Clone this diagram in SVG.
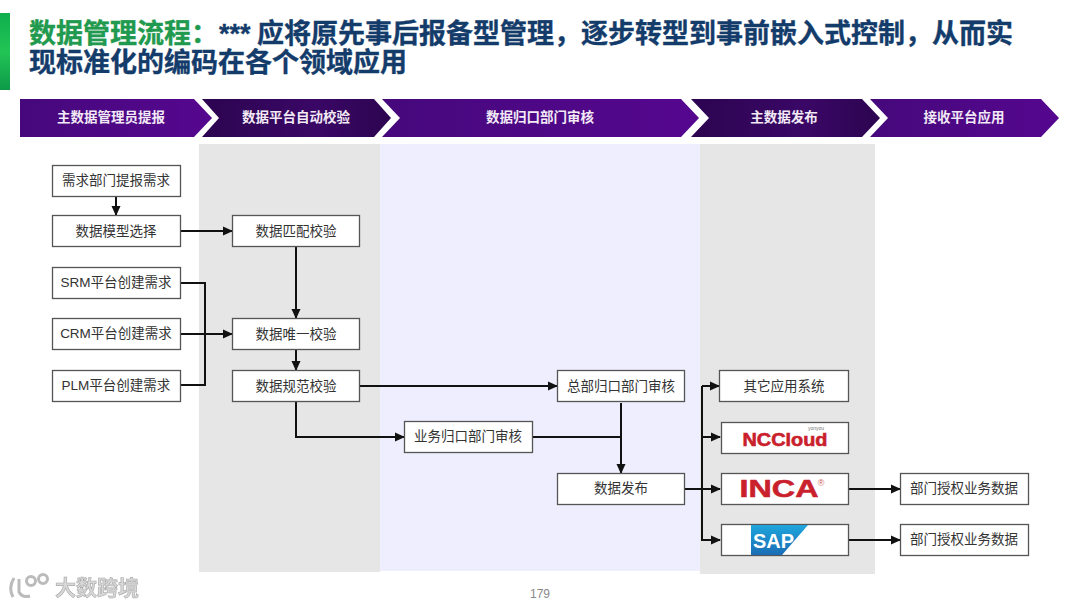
<svg xmlns="http://www.w3.org/2000/svg" width="1080" height="608" viewBox="0 0 1080 608">
<style>
text{font-family:"Liberation Sans","Noto Sans CJK SC",sans-serif}
.cjk{font-family:"Noto Sans CJK SC",sans-serif}
.box{fill:#fff;stroke:#555;stroke-width:1.3}
.lb{font-size:13.5px;fill:#333;text-anchor:middle;dominant-baseline:central}
.hd{font-size:13.5px;fill:#f2eaf6;text-anchor:middle;dominant-baseline:central;font-weight:700}
.t{font-size:27px;font-weight:700;fill:#143c6b;stroke:#143c6b;stroke-width:.35}
.g{fill:#1f9a4e;stroke:#1f9a4e}
.c{fill:none;stroke:#111;stroke-width:2}
.a{fill:none;stroke:#111;stroke-width:2;marker-end:url(#ah)}
</style>
<defs>
<marker id="ah" markerWidth="11" markerHeight="11" refX="9" refY="5" orient="auto" markerUnits="userSpaceOnUse"><path d="M0,0.5L10,5L0,9.5Z" fill="#111"/></marker>
<linearGradient id="bar" x1="0" y1="0" x2="0" y2="1"><stop offset="0" stop-color="#0fae4e"/><stop offset=".5" stop-color="#22c455"/><stop offset="1" stop-color="#0d9a48"/></linearGradient>
<linearGradient id="p1" x1="0" y1="0" x2="1" y2="0"><stop offset="0" stop-color="#46087c"/><stop offset="1" stop-color="#55078f"/></linearGradient>
<linearGradient id="p2" x1="0" y1="0" x2="1" y2="0"><stop offset="0" stop-color="#2c0450"/><stop offset=".6" stop-color="#3a0766"/><stop offset="1" stop-color="#2c0450"/></linearGradient>
<linearGradient id="sap" x1="0" y1="0" x2="0" y2="1"><stop offset="0" stop-color="#1fa6dc"/><stop offset="1" stop-color="#1a6cb4"/></linearGradient>
<filter id="soft"><feGaussianBlur stdDeviation="0.7"/></filter>
</defs>

<rect x="0" y="13" width="10" height="77" fill="url(#bar)"/>
<text class="t g cjk" x="29" y="43">数据管理流程：</text>
<text class="t" x="219" y="43">***</text>
<text class="t cjk" x="257" y="43">应将原先事后报备型管理，逐步转型到事前嵌入式控制，从而实</text>
<text class="t cjk" x="29" y="72">现标准化的编码在各个领域应用</text>

<g id="bands">
<rect x="199" y="144" width="181" height="428" fill="#e6e6e6"/>
<rect x="380" y="144" width="320" height="427" fill="#eeeefe"/>
<rect x="700" y="144" width="175" height="430" fill="#e6e6e6"/>
</g>

<g id="stage1"><path d="M20,99H194L212,118L194,137H20Z" fill="url(#p1)"/><text class="hd cjk" x="111" y="116">主数据管理员提报</text></g>
<g id="stage2"><path d="M202,99H374L391,118L374,137H202L219,118Z" fill="url(#p2)"/><text class="hd cjk" x="296" y="116">数据平台自动校验</text></g>
<g id="stage3"><path d="M382,99H681L699,118L681,137H382L400,118Z" fill="url(#p1)"/><text class="hd cjk" x="540" y="116">数据归口部门审核</text></g>
<g id="stage4"><path d="M691,99H862L880,118L862,137H691L709,118Z" fill="url(#p2)"/><text class="hd cjk" x="784" y="116">主数据发布</text></g>
<g id="stage5"><path d="M870,99H1041L1059,118L1041,137H870L888,118Z" fill="url(#p1)"/><text class="hd cjk" x="964" y="116">接收平台应用</text></g>

<g id="connectors">
<path class="a" d="M116,197V215"/>
<path class="a" d="M181,231H232"/>
<path class="a" d="M296,247V318"/>
<path class="c" d="M181,283H205V385H181"/>
<path class="a" d="M181,334H232"/>
<path class="a" d="M296,350V370"/>
<path class="a" d="M360,386H557"/>
<path class="a" d="M296,402V437H404"/>
<path class="c" d="M533,437H621"/>
<path class="a" d="M621,403V473"/>
<path class="c" d="M685,489H702"/>
<path class="a" d="M702,386H719"/>
<path class="a" d="M702,437H720"/>
<path class="a" d="M702,489H720"/>
<path class="a" d="M702,386V540H720"/>
<path class="a" d="M849,489H900"/>
<path class="a" d="M849,540H900"/>
</g>

<g id="n1"><rect class="box" x="52.5" y="165.5" width="128" height="31"/><text class="lb cjk" x="116" y="179">需求部门提报需求</text></g>
<g id="n2"><rect class="box" x="52.5" y="215.5" width="128" height="31"/><text class="lb cjk" x="116" y="230">数据模型选择</text></g>
<g id="n3"><rect class="box" x="52.5" y="267.5" width="128" height="31"/><text class="lb" x="116" y="282">SRM平台创建需求</text></g>
<g id="n4"><rect class="box" x="52.5" y="318.5" width="128" height="31"/><text class="lb" x="116" y="333">CRM平台创建需求</text></g>
<g id="n5"><rect class="box" x="52.5" y="370.5" width="128" height="31"/><text class="lb" x="116" y="385">PLM平台创建需求</text></g>
<g id="n6"><rect class="box" x="232.5" y="215.5" width="127" height="31"/><text class="lb cjk" x="296" y="230">数据匹配校验</text></g>
<g id="n7"><rect class="box" x="232.5" y="318.5" width="127" height="31"/><text class="lb cjk" x="296" y="333">数据唯一校验</text></g>
<g id="n8"><rect class="box" x="232.5" y="370.5" width="127" height="31"/><text class="lb cjk" x="296" y="385">数据规范校验</text></g>
<g id="n9"><rect class="box" x="404.5" y="421.5" width="128" height="31"/><text class="lb cjk" x="468" y="435">业务归口部门审核</text></g>
<g id="n10"><rect class="box" x="557.5" y="370.5" width="127" height="31"/><text class="lb cjk" x="621" y="385">总部归口部门审核</text></g>
<g id="n11"><rect class="box" x="557.5" y="473.5" width="127" height="31"/><text class="lb cjk" x="621" y="487">数据发布</text></g>
<g id="n12"><rect class="box" x="719.5" y="370.5" width="129" height="31"/><text class="lb cjk" x="784" y="385">其它应用系统</text></g>
<g id="n13"><rect class="box" x="721.5" y="422.5" width="127" height="31"/><text x="785" y="446" text-anchor="middle" font-size="19" font-weight="700" fill="#c9202c" stroke="#c9202c" stroke-width=".6" textLength="85" lengthAdjust="spacingAndGlyphs">NCCloud</text><text x="816" y="430" text-anchor="middle" font-size="5" fill="#777">yonyou</text></g>
<g id="n14"><rect class="box" x="721.5" y="473.5" width="127" height="31"/><text x="779" y="497" text-anchor="middle" font-size="23" font-weight="700" fill="#c9202c" stroke="#c9202c" stroke-width=".5" textLength="79" lengthAdjust="spacingAndGlyphs">INCA</text><text x="821" y="486" text-anchor="middle" font-size="9" fill="#d06060">®</text></g>
<g id="n15"><rect class="box" x="721.5" y="524.5" width="127" height="31"/><path d="M751,525H808L782,555H751Z" fill="url(#sap)"/><text x="753" y="548" font-size="20" font-weight="700" fill="#fff" textLength="41" lengthAdjust="spacingAndGlyphs">SAP</text></g>
<g id="n16"><rect class="box" x="900.5" y="473.5" width="128" height="31"/><text class="lb cjk" x="964" y="487">部门授权业务数据</text></g>
<g id="n17"><rect class="box" x="900.5" y="524.5" width="128" height="31"/><text class="lb cjk" x="964" y="538">部门授权业务数据</text></g>

<text x="540" y="598" text-anchor="middle" font-size="12" fill="#888">179</text>

<g id="watermark">
<g fill="none" stroke="#bbb" stroke-width="3" filter="url(#soft)"><path d="M14,578Q8,588 13,597M19,579V592Q22,598 30,596"/><circle cx="31" cy="581" r="4.5"/><circle cx="43" cy="579" r="4.5"/></g>
<text class="cjk" x="97" y="595" text-anchor="middle" font-size="21" font-weight="700" fill="#d8d8d8" stroke="#aaa" stroke-width=".6" filter="url(#soft)">大数跨境</text>
</g>
</svg>
